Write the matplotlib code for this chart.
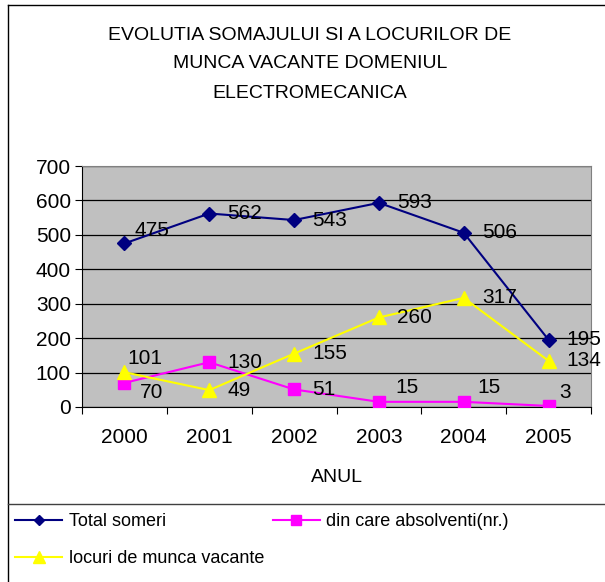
import matplotlib
matplotlib.use('Agg')
import matplotlib.pyplot as plt
from matplotlib.lines import Line2D

plt.rcParams['font.family'] = ['Liberation Sans', 'DejaVu Sans']

years = ['2000', '2001', '2002', '2003', '2004', '2005']
total_someri = [475, 562, 543, 593, 506, 195]
absolventi = [70, 130, 51, 15, 15, 3]
locuri_vacante = [101, 49, 155, 260, 317, 134]

# label offsets in points (dx, dy), default is to the right of the point
off_total = {0: (7, 9)}
off_abs = {0: (11, -7), 3: (12, 10), 4: (10, 10), 5: (8, 10)}
off_loc = {0: (2, 10)}


def main():
    W, H = 605, 582
    fig = plt.figure(figsize=(W / 100, H / 100), dpi=100)
    ax = fig.add_axes([82 / W, 1 - 407 / H, 509 / W, 241 / H])
    ax.set_facecolor('#C0C0C0')

    fs = 15
    x = list(range(len(years)))
    series = [
        (total_someri, '#000080', 'D', 7, 'Total someri', off_total),
        (absolventi, '#FF00FF', 's', 8.5, 'din care absolventi(nr.)', off_abs),
        (locuri_vacante, '#FFFF00', '^', 10, 'locuri de munca vacante', off_loc),
    ]
    handles = []
    for vals, col, mk, ms, lab, offs in series:
        h, = ax.plot(x, vals, color=col, marker=mk, markersize=ms, lw=1.5,
                     markeredgecolor=col, label=lab, zorder=3)
        handles.append(h)
        for i, v in enumerate(vals):
            dx, dy = offs.get(i, (13, 0))
            ax.annotate(str(v), (i, v), xytext=(dx, dy), textcoords='offset points',
                        ha='left', va='center', fontsize=fs)

    ax.set_xlim(-0.5, 5.5)
    ax.set_ylim(0, 700)
    ax.set_yticks(range(0, 701, 100))
    ax.yaxis.grid(True, color='black', lw=0.9)
    ax.set_axisbelow(True)
    ax.set_xticks([i + 0.5 for i in range(-1, 6)], minor=False)
    ax.set_xticklabels([])
    ax.set_xticks(x, minor=True)
    ax.set_xticklabels(years, minor=True, fontsize=fs)
    ax.tick_params(axis='x', which='minor', length=0, pad=15)
    ax.tick_params(axis='x', which='major', length=5, direction='out')
    ax.tick_params(axis='y', length=5, direction='out', labelsize=fs, pad=3)
    for s in ['top', 'right']:
        ax.spines[s].set_color('#808080')
    for s in ['left', 'bottom']:
        ax.spines[s].set_color('black')
    ax.set_xlabel('ANUL', fontsize=14, labelpad=16)

    title = ['EVOLUTIA SOMAJULUI SI A LOCURILOR DE', 'MUNCA VACANTE DOMENIUL', 'ELECTROMECANICA']
    for k, t in enumerate(title):
        fig.text(310 / W, 1 - (35 + 29 * k) / H, t, ha='center', va='center', fontsize=14)

    # outer border and legend separator
    fig.add_artist(Line2D([8 / W, 8 / W], [0, 1 - 5 / H], color='black', lw=1))
    fig.add_artist(Line2D([8 / W, 1], [1 - 5 / H, 1 - 5 / H], color='black', lw=1))
    fig.add_artist(Line2D([8 / W, 1], [1 - 504 / H, 1 - 504 / H], color='#404040', lw=1))

    fig.legend([handles[0], handles[2], handles[1]],
               [handles[0].get_label(), handles[2].get_label(), handles[1].get_label()],
               loc='upper left', bbox_to_anchor=(-1 / W, 1 - 497 / H), ncol=2,
               frameon=False, fontsize=13, handlelength=2.6, handletextpad=0.35,
               columnspacing=0.5, labelspacing=1.1, markerscale=0.8)

    fig.savefig('out.png', dpi=100)


if __name__ == '__main__':
    main()
